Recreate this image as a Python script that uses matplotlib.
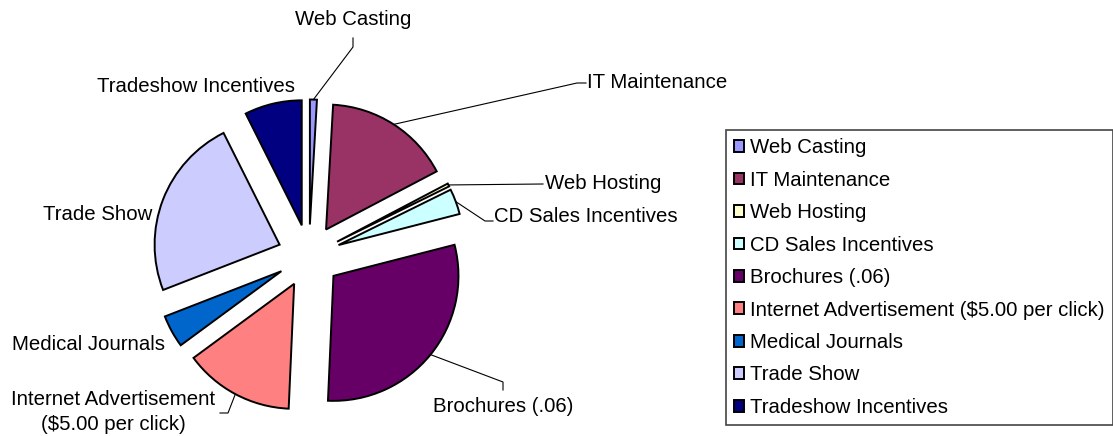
import numpy as np
import matplotlib
matplotlib.use("Agg")
from matplotlib import pyplot as plt

# share of the budget per item
categories = ["Web Casting", "IT Maintenance", "Web Hosting", "CD Sales Incentives",
              "Brochures (.06)", "Internet Advertisement ($5.00 per click)",
              "Medical Journals", "Trade Show", "Tradeshow Incentives"]
shares = [0.9, 16.4, 0.4, 3.3, 29.7, 14.2, 4.2, 23.5, 7.4]
colors = ["#9999FF", "#993366", "#FFFFCC", "#CCFFFF", "#660066",
          "#FF8080", "#0066CC", "#CCCCFF", "#000080"]
slice_labels = ["Web Casting", "IT Maintenance", "Web Hosting", "CD Sales Incentives",
                "Brochures (.06)", "Internet Advertisement\n($5.00 per click)",
                "Medical Journals", "Trade Show", "Tradeshow Incentives"]

W, H = 1113, 436
FS = 14.7
plt.rcParams["font.family"] = ["Liberation Sans", "DejaVu Sans"]

fig = plt.figure(figsize=(W / 100, H / 100), dpi=100)
ax = fig.add_axes([0, 0, 1, 1])

wedges, _ = ax.pie(shares, colors=colors, startangle=90, counterclock=False,
                   radius=125, center=(309, H - 256), explode=[31.5] * len(shares),
                   wedgeprops=dict(edgecolor="black", linewidth=1.4))
ax.set_xlim(0, W)
ax.set_ylim(0, H)
ax.set_aspect("equal")
ax.axis("off")

# label placement (pixels from top-left) and leader line bends
layout = [
    dict(pos=(353, 20), ha="center", path=[(353, 47), (353, 38)]),
    dict(pos=(587, 82), ha="left", path=[(577, 83), (586, 83)]),
    dict(pos=(545, 184), ha="left", path=[(543, 184)]),
    dict(pos=(494, 217), ha="left", path=[(485, 221), (493, 221)]),
    dict(pos=(503, 407), ha="center", path=[(503, 382), (503, 390)]),
    dict(pos=(113, 412), ha="center", path=[(228, 413), (220, 413)]),
    dict(pos=(165, 345), ha="right", path=None),
    dict(pos=(152, 215), ha="right", path=None),
    dict(pos=(196, 87), ha="center", path=None),
]

for w, lab, spec in zip(wedges, slice_labels, layout):
    px, py = spec["pos"]
    ax.text(px, H - py, lab, ha=spec["ha"], va="center", fontsize=FS,
            multialignment="center", linespacing=1.4)
    if spec["path"]:
        mid = np.deg2rad((w.theta1 + w.theta2) / 2)
        cx, cy = w.center
        xs = [cx + w.r * np.cos(mid)] + [p[0] for p in spec["path"]]
        ys = [cy + w.r * np.sin(mid)] + [H - p[1] for p in spec["path"]]
        ax.plot(xs, ys, color="black", linewidth=0.8)

leg = ax.legend(wedges, categories, loc="upper left",
                bbox_to_anchor=(726 / W, 1 - 130 / H), bbox_transform=fig.transFigure,
                borderaxespad=0, frameon=True, fancybox=False, edgecolor="#444444",
                fontsize=FS, handlelength=0.5, handleheight=0.5, handletextpad=0.3,
                labelspacing=0.66, borderpad=0.4)
leg.get_frame().set_linewidth(1.2)
leg.get_frame().set_alpha(1)

fig.savefig("out.png", dpi=100)
